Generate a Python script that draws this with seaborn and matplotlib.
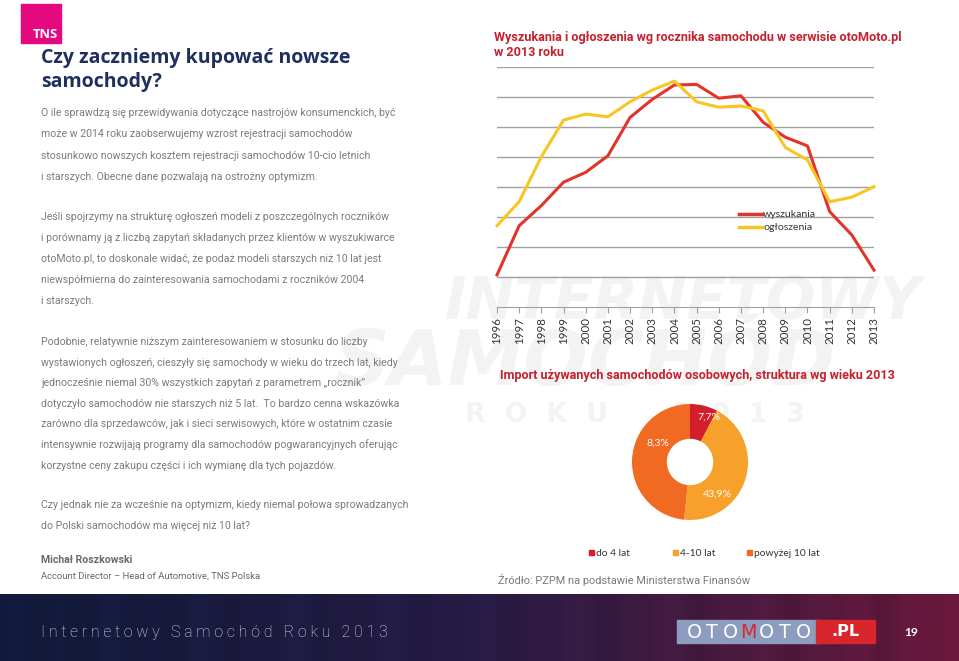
import numpy as np
import pandas as pd
import matplotlib
matplotlib.use("Agg")
import matplotlib.pyplot as plt
import seaborn as sns
from matplotlib.patches import Rectangle

# ---------------- data ----------------
years = list(range(1996, 2014))
wyszukania = [1.07, 2.71, 3.38, 4.16, 4.49, 5.04, 6.32, 6.92, 7.40, 7.42,
              6.96, 7.04, 6.16, 5.66, 5.37, 3.18, 2.40, 1.23]
ogloszenia = [2.71, 3.51, 5.01, 6.23, 6.43, 6.34, 6.84, 7.23, 7.53, 6.84,
              6.66, 6.70, 6.54, 5.32, 4.90, 3.51, 3.66, 4.01]
series_names = ["wyszukania", "ogłoszenia"]
series_colors = ["#e3342b", "#f7c620"]

age_groups = ["do 4 lat", "4-10 lat", "powyżej 10 lat"]
age_shares = [7.7, 43.9, 48.4]
age_labels = ["7,7%", "43,9%", "8,3%"]
age_colors = ["#d31f2c", "#f8a12a", "#f06a22"]

W, H = 959, 661
fig = plt.figure(figsize=(W / 100, H / 100), dpi=100)
fig.patch.set_facecolor("white")

def px(v):
    return v * 0.72  # px -> pt

# background axes in pixel coordinates
bg = fig.add_axes([0, 0, 1, 1], zorder=0)
bg.set_xlim(0, W)
bg.set_ylim(H, 0)
bg.axis("off")

# watermark (very faint)
wm = "#f3f3f3"
bg.text(445, 302, "INTERNETOWY", fontsize=px(58), fontweight="bold", style="italic",
        color=wm, va="center", ha="left", family="DejaVu Sans", zorder=0)
bg.text(335, 364, "SAMOCHÓD", fontsize=px(76), fontweight="bold", style="italic",
        color=wm, va="center", ha="left", family="DejaVu Sans", zorder=0)
bg.text(465, 415, "R  O  K  U       2  0  1  3", fontsize=px(27), fontweight="bold",
        color=wm, va="center", ha="left", family="DejaVu Sans", zorder=0)

# TNS logo
bg.add_patch(Rectangle((21, 4), 40, 39, color="#e5097f", zorder=2))
bg.text(33, 35, "TNS", fontsize=px(13), fontweight="bold", color="white",
        family="Open Sans", va="center", ha="left", zorder=3)

# main title
navy = "#1f2f5f"
bg.text(41, 58, "Czy zaczniemy kupować nowsze", fontsize=px(19.5), fontweight="bold",
        color=navy, family="Open Sans", va="center", ha="left")
bg.text(41, 82, "samochody?", fontsize=px(19.5), fontweight="bold",
        color=navy, family="Open Sans", va="center", ha="left")

grey = "#7c7c7c"
body_fs = px(10.45)
def para(lines, y0, step):
    for i, ln in enumerate(lines):
        bg.text(41, y0 + i * step, ln, fontsize=body_fs, color=grey, family="Roboto",
                va="center", ha="left", zorder=3)

para(["O ile sprawdzą się przewidywania dotyczące nastrojów konsumenckich, być",
      "może w 2014 roku zaobserwujemy wzrost rejestracji samochodów",
      "stosunkowo nowszych kosztem rejestracji samochodów 10-cio letnich",
      "i starszych. Obecne dane pozwalają na ostrożny optymizm."], 113, 21.3)
para(["Jeśli spojrzymy na strukturę ogłoszeń modeli z poszczególnych roczników",
      "i porównamy ją z liczbą zapytań składanych przez klientów w wyszukiwarce",
      "otoMoto.pl, to doskonale widać, że podaż modeli starszych niż 10 lat jest",
      "niewspółmierna do zainteresowania samochodami z roczników 2004",
      "i starszych."], 217, 20.9)
para(["Podobnie, relatywnie niższym zainteresowaniem w stosunku do liczby",
      "wystawionych ogłoszeń, cieszyły się samochody w wieku do trzech lat, kiedy",
      "jednocześnie niemal 30% wszystkich zapytań z parametrem „rocznik”",
      "dotyczyło samochodów nie starszych niż 5 lat.  To bardzo cenna wskazówka",
      "zarówno dla sprzedawców, jak i sieci serwisowych, które w ostatnim czasie",
      "intensywnie rozwijają programy dla samochodów pogwarancyjnych oferując",
      "korzystne ceny zakupu części i ich wymianę dla tych pojazdów."], 342, 20.6)
para(["Czy jednak nie za wcześnie na optymizm, kiedy niemal połowa sprowadzanych",
      "do Polski samochodów ma więcej niż 10 lat?"], 505, 21)

bg.text(41, 560, "Michał Roszkowski", fontsize=px(10.5), fontweight="bold", color="#6a6a6a",
        family="Roboto", va="center", ha="left")
bg.text(41, 576, "Account Director – Head of Automotive, TNS Polska", fontsize=px(9.5),
        color="#6a6a6a", family="Roboto", va="center", ha="left")

# chart titles
crimson = "#c8202f"
tfs = px(12.65)
bg.text(494, 38, "Wyszukania i ogłoszenia wg rocznika samochodu w serwisie otoMoto.pl",
        fontsize=tfs, fontweight="bold", color=crimson, family="Roboto", va="center", ha="left")
bg.text(494, 53, "w 2013 roku", fontsize=tfs, fontweight="bold", color=crimson,
        family="Roboto", va="center", ha="left")
bg.text(500, 376, "Import używanych samochodów osobowych, struktura wg wieku 2013",
        fontsize=tfs, fontweight="bold", color=crimson, family="Roboto", va="center", ha="left")

# donut legend
leg_x = [592, 676, 750]
for xx, lab, col in zip(leg_x, age_groups, age_colors):
    bg.add_patch(Rectangle((xx - 3, 550), 5, 5, color=col))
    bg.text(xx + 4, 553, lab, fontsize=px(10.3), color="#333333", family="Lato",
            va="center", ha="left")

bg.text(498, 580, "Źródło: PZPM na podstawie Ministerstwa Finansów", fontsize=px(11),
        color="#7a7a7a", family="Roboto", va="center", ha="left")

# footer gradient
xs = np.linspace(0, 1, 960)
c0 = np.array([17, 26, 58]) / 255
c1 = np.array([38, 27, 68]) / 255
c2 = np.array([105, 24, 58]) / 255
t = xs[:, None]
grad = np.where(t < 0.5, c0 + (c1 - c0) * (t / 0.5), c1 + (c2 - c1) * ((t - 0.5) / 0.5))
stripes = 1 + 0.07 * np.sin(xs * 97.0) * np.sin(xs * 31.0 + 1.3)
grad = np.clip(grad * stripes[:, None], 0, 1)
img = np.repeat(grad[None, :, :], 2, axis=0)
bg.imshow(img, extent=[0, W, 661, 594], aspect="auto", zorder=1, interpolation="bilinear")
bg.set_xlim(0, W)
bg.set_ylim(H, 0)

bg.text(41, 632, " ".join("Internetowy Samochód Roku 2013"), fontsize=px(15.9),
        color="#d9dbe6", family="Roboto", fontweight="light", va="center", ha="left", zorder=3)

# otoMoto logo
bg.add_patch(Rectangle((677, 620), 142, 23, color="#8c9dbf", zorder=2))
bg.add_patch(Rectangle((816, 620), 59, 23, color="#d8262c", zorder=2))
logo_chars = list("OTOMOTO")
for i, ch in enumerate(logo_chars):
    bg.text(694 + i * 18.2, 632, ch, fontsize=px(19), color="#d8262c" if i == 3 else "white",
            family="DejaVu Sans", va="center", ha="center", zorder=3)
bg.text(845, 632, ".PL", fontsize=px(16), fontweight="bold", color="white",
        family="DejaVu Sans", va="center", ha="center", zorder=3)
bg.text(911, 633, "19", fontsize=px(12), fontweight="bold", color="white",
        family="Lato", va="center", ha="center", zorder=3)

# ---------------- line chart ----------------
L, R, T, B = 497, 874, 67, 307
ax = fig.add_axes([L / W, 1 - B / H, (R - L) / W, (B - T) / H], zorder=2)
ax.patch.set_alpha(0)
df = pd.DataFrame({
    "rok": years * 2,
    "wartość": wyszukania + ogloszenia,
    "seria": [series_names[0]] * len(years) + [series_names[1]] * len(years),
})
sns.lineplot(data=df, x="rok", y="wartość", hue="seria", hue_order=series_names,
             palette=dict(zip(series_names, series_colors)), linewidth=2.2, ax=ax,
             legend=True)
for ln in ax.lines:
    ln.set_clip_on(False)
ax.set_xlim(1996, 2013)
ax.set_ylim(0, 8)
ax.set_yticks(range(1, 9))
ax.yaxis.grid(True, color="#a0a0a0", linewidth=1.0)
ax.set_axisbelow(True)
ax.tick_params(axis="y", left=False, labelleft=False)
ax.set_xticks(years)
ax.set_xticklabels([str(y) for y in years], rotation=90, fontsize=px(11.5),
                   color="#333333", family="Lato")
ax.tick_params(axis="x", length=4, color="#a0a0a0", pad=3)
for s in ["top", "right", "left"]:
    ax.spines[s].set_visible(False)
ax.spines["bottom"].set_color("#a0a0a0")
ax.set_xlabel("")
ax.set_ylabel("")
leg = ax.legend(loc="upper left", bbox_to_anchor=((739 - L) / (R - L), 1 - (210 - T) / (B - T)),
                frameon=False, handlelength=2.2, handletextpad=0.1,
                labelspacing=0.35, borderaxespad=0, borderpad=0,
                prop={"family": "Lato", "size": px(10.5)})
for txt in leg.get_texts():
    txt.set_color("#333333")
for h in leg.get_lines():
    h.set_linewidth(2.5)

# ---------------- donut ----------------
cx, cy, r = 690, 462, 58
axp = fig.add_axes([(cx - r) / W, 1 - (cy + r) / H, 2 * r / W, 2 * r / H], zorder=2)
wedges, _ = axp.pie(age_shares, colors=age_colors, startangle=90, counterclock=False,
                    wedgeprops=dict(width=0.6, linewidth=0))
axp.set_xlim(-1, 1)
axp.set_ylim(-1, 1)
axp.set_aspect("equal")
label_pos = [(0.33, 0.77), (0.48, -0.55), (-0.55, 0.33)]
for (lx, ly), lab in zip(label_pos, age_labels):
    axp.text(lx, ly, lab, fontsize=px(10.5), color="white", family="Lato",
             ha="center", va="center")

fig.savefig("out.png", dpi=100, facecolor="white")
